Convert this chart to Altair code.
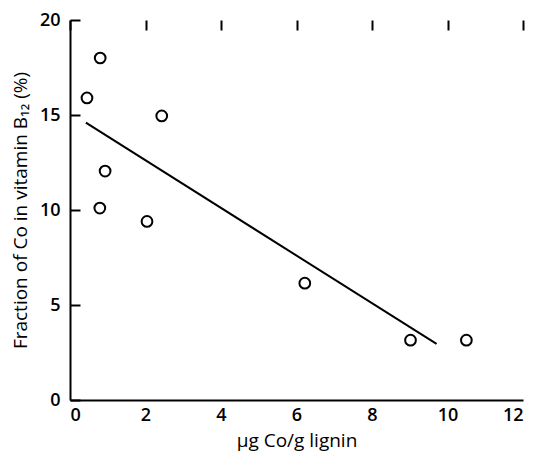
import altair as alt
import pandas as pd

# Measured points: cobalt per gram lignin vs. share of Co present as vitamin B12
co_per_lignin = [0.8, 0.45, 2.43, 0.93, 0.79, 2.04, 6.22, 9.02, 10.5]
b12_fraction = [18.0, 15.9, 14.95, 12.05, 10.1, 9.4, 6.15, 3.15, 3.15]

# Fitted regression line end points
fit_x = [0.42, 9.71]
fit_y = [14.6, 2.95]

x_ticks = [0, 2, 4, 6, 8, 10, 12]
y_ticks = [0, 5, 10, 15, 20]

W, H = 453, 380
FONT = "Open Sans"
FS = 18

points = pd.DataFrame({"x": co_per_lignin, "y": b12_fraction})
fit = pd.DataFrame({"x": fit_x, "y": fit_y})

xscale = alt.Scale(domain=[0, 12], nice=False, zero=False)
yscale = alt.Scale(domain=[0, 20], nice=False, zero=False)

# Inward ticks: grid lines dashed so only the first 10 px next to the axis show
x_axis = alt.Axis(
    values=x_ticks, format="d", ticks=False,
    grid=True, gridColor="black", gridWidth=2, gridOpacity=1,
    gridDash=[10, 1000],
    domainColor="black", domainWidth=2, labelFont=FONT, labelFontSize=FS,
    labelFontWeight=600, labelColor="black", labelPadding=6,
    title="\u03bcg Co/g lignin",
    titleFont=FONT, titleFontSize=19, titleFontWeight=500,
    titleColor="black", titlePadding=7,
)
y_axis = alt.Axis(
    values=y_ticks, format="d", ticks=False,
    grid=True, gridColor="black", gridWidth=2, gridOpacity=1,
    gridDash=[10, 1000],
    domainColor="black", domainWidth=2, labelFont=FONT, labelFontSize=FS,
    labelFontWeight=600, labelColor="black", labelPadding=10,
    title="Fraction of Co in vitamin B\u2081\u2082 (%)",
    titleFont=FONT, titleFontSize=19, titleFontWeight=500,
    titleColor="black", titlePadding=9,
)

scatter = alt.Chart(points).mark_point(
    shape="circle", filled=False, color="black", strokeWidth=2, size=115,
    opacity=1,
).encode(
    x=alt.X("x:Q", scale=xscale, axis=x_axis),
    y=alt.Y("y:Q", scale=yscale, axis=y_axis),
)

line = alt.Chart(fit).mark_line(color="black", strokeWidth=2).encode(
    x=alt.X("x:Q", scale=xscale),
    y=alt.Y("y:Q", scale=yscale),
)

chart = alt.layer(scatter, line).properties(
    width=W, height=H,
    background="white",
    autosize=alt.AutoSizeParams(type="none"),
    padding={"left": 70, "top": 20, "right": 12, "bottom": 63},
).configure_view(strokeWidth=0)

chart.save("out.html", embed_options={"renderer": "svg", "actions": False})
